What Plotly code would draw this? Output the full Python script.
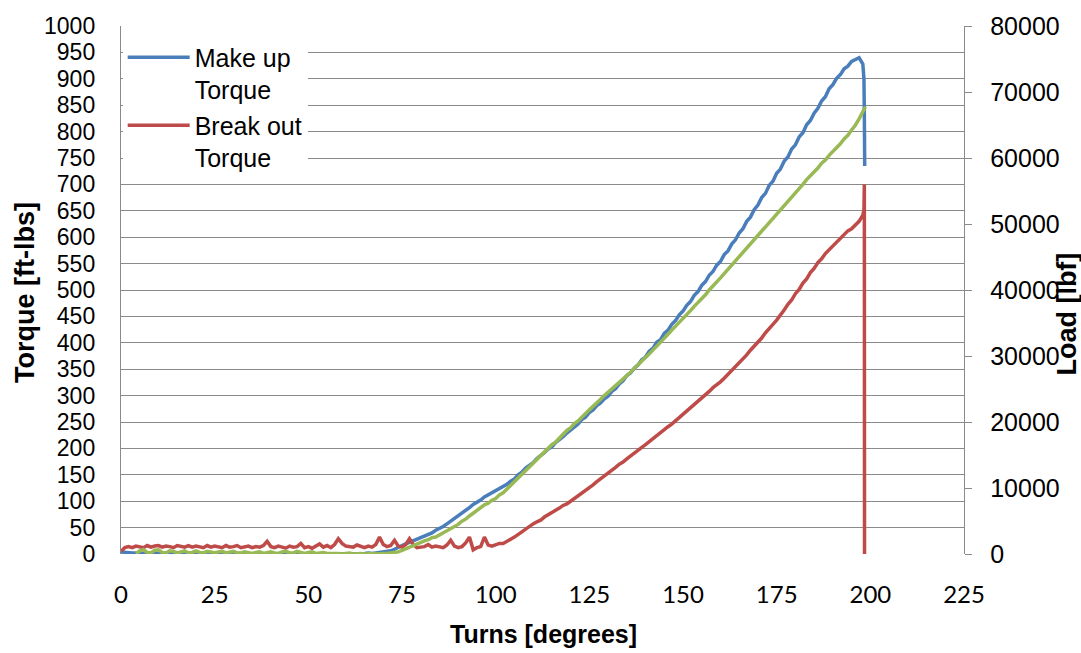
import plotly.graph_objects as go

# Turn angle [degrees], one sample per degree
turns = list(range(0, 199))

# Make up torque [ft-lbs]
make_up_torque = [
    4, 3, 3, 2, 2, 1, 2, 1, 1, 2,
    1, 1, 2, 1, 1, 1, 2, 1, 1, 1,
    2, 1, 1, 1, 2, 1, 1, 1, 1, 2,
    1, 1, 1, 1, 1, 0, 1, 0, 0, 1,
    0, 0, 0, 1, 0, 0, 0, 0, 1, 0,
    0, 0, 0, 0, 1, 0, 0, 0, 0, 0,
    0, 1, 0, 1, 1, 1, 2, 1, 2, 3,
    3, 4, 6, 9, 13, 16, 19, 22, 24, 27,
    30, 34, 37, 40, 45, 48, 52, 57, 62, 66,
    71, 77, 83, 88, 94, 98, 102, 108, 112, 115,
    119, 124, 127, 132, 138, 142, 150, 155, 163, 168,
    173, 181, 186, 192, 199, 203, 211, 216, 222, 229,
    234, 241, 246, 255, 259, 268, 273, 281, 286, 294,
    299, 308, 313, 322, 328, 338, 343, 352, 358, 368,
    373, 384, 390, 401, 406, 418, 424, 435, 442, 453,
    460, 471, 478, 490, 497, 509, 516, 528, 535, 547,
    554, 567, 574, 587, 595, 608, 616, 630, 638, 652,
    661, 675, 683, 698, 706, 721, 729, 744, 752, 767,
    775, 790, 798, 813, 821, 835, 844, 858, 866, 881,
    889, 901, 908, 919, 924, 933, 936, 940, 928,
]
make_up_tail_turns = [198.3, 198.4, 198.5]
make_up_tail = [900, 830, 735]

# Break out torque [ft-lbs]
break_out_torque = [
    5, 12, 14, 12, 15, 14, 12, 16, 13, 15,
    16, 13, 15, 14, 12, 16, 14, 13, 16, 13,
    15, 14, 12, 16, 13, 15, 13, 12, 16, 13,
    14, 16, 12, 14, 15, 12, 14, 13, 16, 24,
    14, 12, 15, 13, 11, 15, 13, 14, 20, 12,
    14, 11, 15, 19, 13, 16, 12, 18, 29, 20,
    15, 14, 13, 17, 14, 12, 15, 13, 18, 32,
    18, 14, 16, 26, 15, 13, 18, 29, 18, 12,
    13, 14, 18, 13, 15, 14, 12, 17, 26, 15,
    12, 14, 21, 32, 8, 12, 14, 32, 17, 15,
    17, 20, 20, 25, 28, 32, 38, 42, 47, 53,
    57, 61, 64, 70, 74, 78, 83, 87, 92, 95,
    100, 105, 110, 116, 120, 126, 131, 137, 142, 148,
    154, 158, 164, 170, 174, 180, 186, 190, 196, 202,
    207, 213, 218, 224, 229, 235, 241, 246, 252, 258,
    264, 270, 276, 283, 289, 296, 302, 308, 315, 320,
    326, 333, 340, 347, 355, 362, 370, 377, 386, 393,
    402, 409, 419, 426, 435, 443, 454, 462, 473, 481,
    493, 501, 513, 521, 533, 541, 552, 559, 569, 576,
    585, 591, 599, 604, 612, 616, 624, 630, 642,
]
break_out_tail_turns = [198.3, 198.4, 198.45]
break_out_tail = [652, 700, 0]

# Axial load [lbf]
load = [
    None, None, None, None, 80, 480, 640, 240, 160, 560,
    640, 240, 160, 480, 400, 160, 320, 480, 160, 240,
    480, 240, 160, 400, 320, 160, 320, 400, 160, 240,
    400, 160, 160, 320, 240, 80, 240, 320, 80, 160,
    320, 160, 80, 320, 400, 160, 160, 400, 240, 80,
    240, 320, 80, 160, 240, 80, 80, 160, 80, 0,
    80, 160, 0, 80, 80, 0, 80, 80, 0, 80,
    80, 80, 160, 160, 320, 560, 800, 1040, 1360, 1600,
    1760, 2000, 2160, 2480, 2560, 2880, 3200, 3600, 3840, 4240,
    4480, 4960, 5280, 5760, 6160, 6720, 7040, 7440, 7680, 8160,
    8400, 8960, 9280, 9840, 10400, 11040, 11520, 12080, 12560, 13280,
    13760, 14320, 14800, 15440, 15920, 16560, 16960, 17600, 18080, 18720,
    19120, 19760, 20160, 20800, 21280, 21840, 22320, 22960, 23440, 24000,
    24480, 24960, 25440, 26000, 26480, 27040, 27520, 28160, 28640, 29280,
    29760, 30320, 30880, 31520, 32080, 32720, 33280, 33920, 34480, 35120,
    35680, 36320, 36880, 37520, 38080, 38720, 39280, 40000, 40560, 41200,
    41840, 42480, 43120, 43760, 44400, 45040, 45680, 46320, 46880, 47600,
    48160, 48880, 49440, 50160, 50720, 51440, 52000, 52800, 53360, 54080,
    54720, 55360, 56000, 56720, 57280, 57920, 58480, 59200, 59680, 60400,
    60960, 61600, 62160, 62880, 63440, 64240, 64960, 65920, 67040,
]
load_tail_turns = [198.7]
load_tail = [67760]

BLUE = "#4A7EBB"
RED = "#BE4B48"
GREEN = "#98B954"
GRID = "#8A8A8A"
FONT = "Liberation Sans"

fig = go.Figure()

fig.add_trace(go.Scatter(
    x=turns + make_up_tail_turns, y=make_up_torque + make_up_tail,
    mode="lines", name="Make up<br>Torque",
    line=dict(color=BLUE, width=3.5),
))
fig.add_trace(go.Scatter(
    x=turns + break_out_tail_turns, y=break_out_torque + break_out_tail,
    mode="lines", name="Break out<br>Torque",
    line=dict(color=RED, width=3.5),
))
fig.add_trace(go.Scatter(
    x=turns + load_tail_turns, y=load + load_tail,
    mode="lines", name="Load", showlegend=False, yaxis="y2",
    line=dict(color=GREEN, width=3.5),
))

fig.update_layout(
    width=1081, height=653,
    margin=dict(l=121, r=117, t=18, b=99),
    paper_bgcolor="white", plot_bgcolor="white",
    font=dict(family=FONT, color="black"),
    xaxis=dict(
        range=[0, 225], dtick=25, tick0=0,
        showgrid=False, zeroline=False, showline=False,
        ticks="", ticklabelstandoff=24,
        tickfont=dict(family="Lato", size=24),
    ),
    yaxis=dict(
        range=[0, 1000], dtick=50, tick0=0,
        showgrid=True, gridcolor=GRID, gridwidth=1.4,
        zeroline=False, showline=True, linecolor=GRID, linewidth=1.4,
        ticks="", ticklabelstandoff=20,
        tickfont=dict(size=23),
    ),
    yaxis2=dict(
        overlaying="y", side="right",
        range=[0, 80000], dtick=10000, tick0=0, tickformat="d",
        showgrid=False, zeroline=False,
        showline=True, linecolor=GRID, linewidth=1.4,
        ticks="outside", ticklen=7, tickcolor=GRID, tickwidth=1.4,
        ticklabelstandoff=13,
        tickfont=dict(size=25),
    ),
    legend=dict(
        x=0.002, y=0.984, xanchor="left", yanchor="top",
        bgcolor="white", borderwidth=0,
        font=dict(size=25), valign="top", itemwidth=62,
        entrywidth=200, entrywidthmode="pixels",
    ),
    annotations=[
        dict(text="<b>Torque [ft-lbs]</b>", xref="paper", yref="paper",
             x=-0.114, y=0.496, textangle=-90, showarrow=False,
             xanchor="center", yanchor="middle", font=dict(size=27)),
        dict(text="<b>Load [lbf]</b>", xref="paper", yref="paper",
             x=1.122, y=0.455, textangle=-90, showarrow=False,
             xanchor="center", yanchor="middle", font=dict(size=27)),
        dict(text="<b>Turns [degrees]</b>", xref="paper", yref="paper",
             x=0.5006, y=-0.151, showarrow=False,
             xanchor="center", yanchor="middle", font=dict(size=25)),
    ],
)

fig.write_html("out.html")
